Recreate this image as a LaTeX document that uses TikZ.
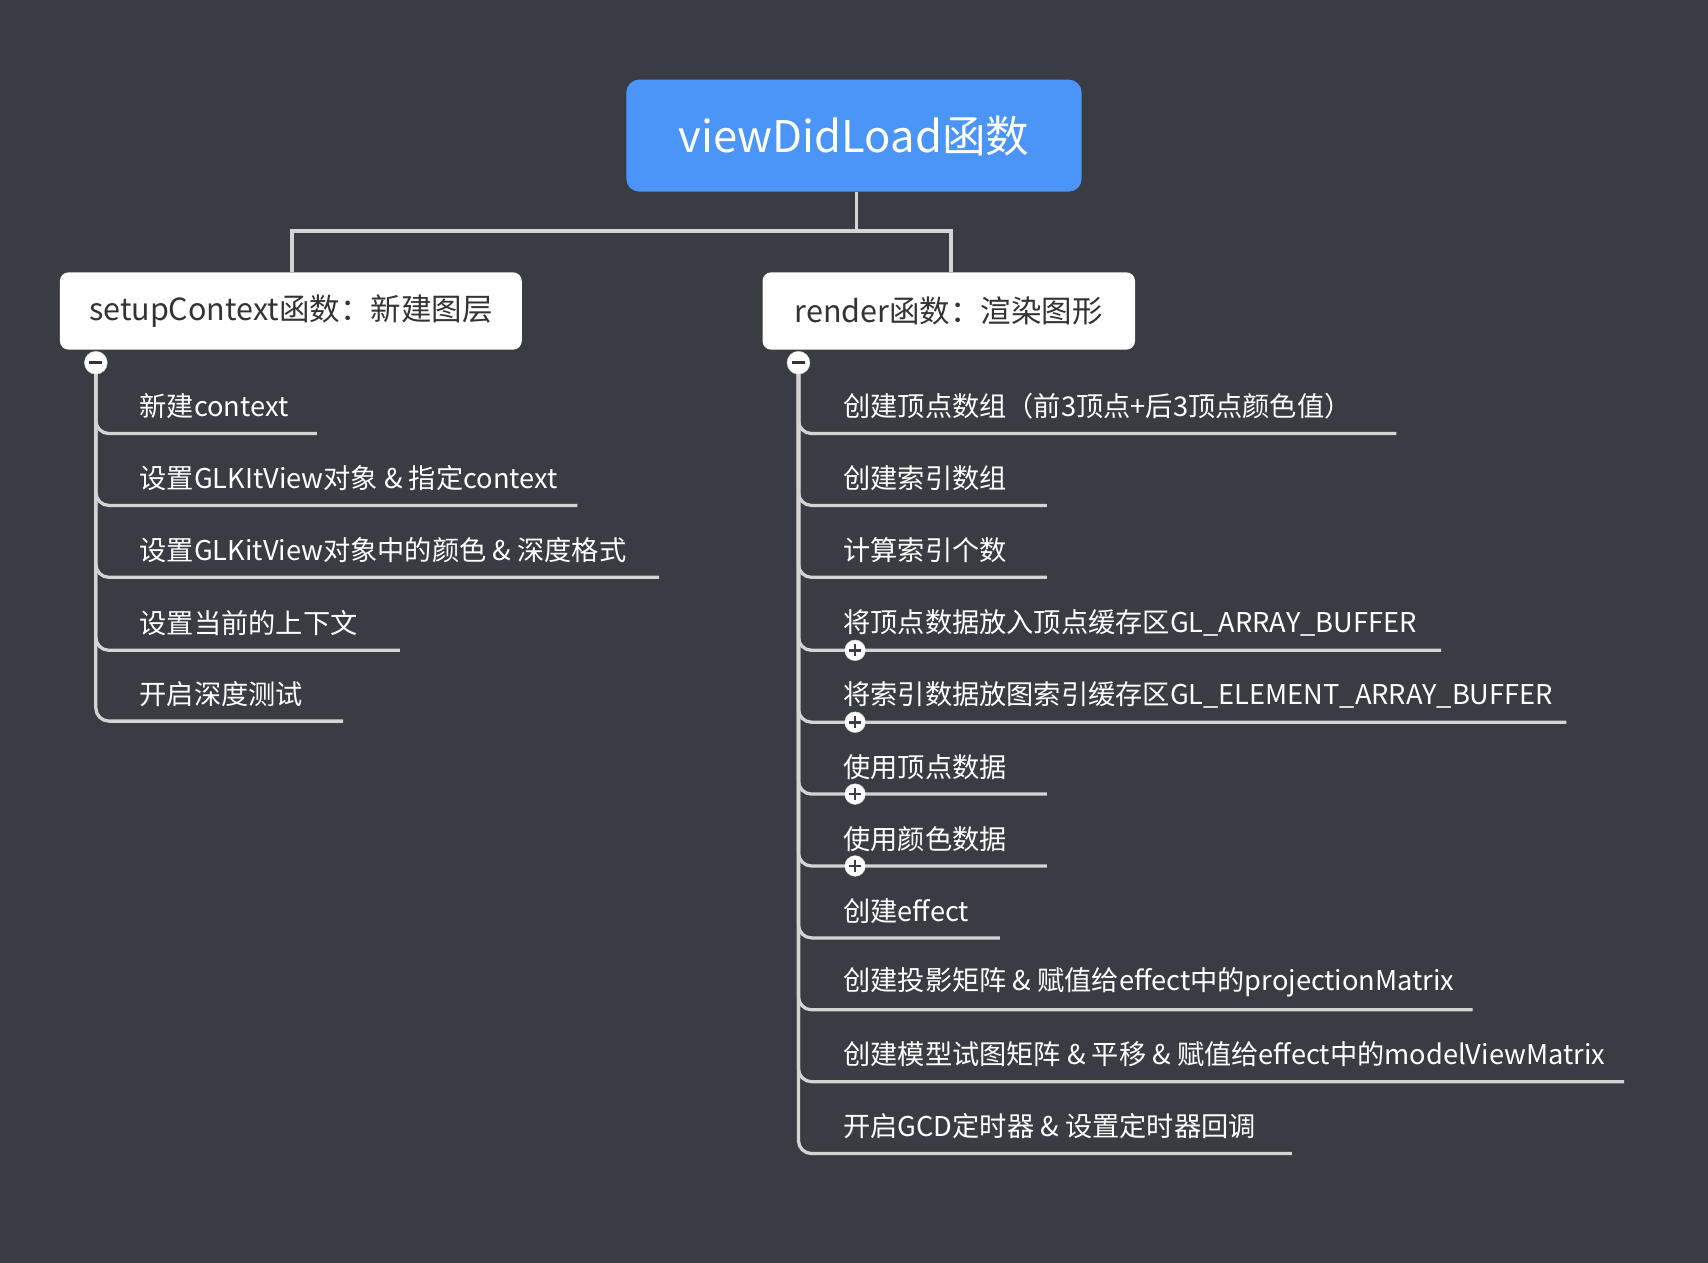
\documentclass[tikz,border=0pt]{standalone}
\usepackage{fontspec}
\setmainfont{Noto Sans CJK SC}
\begin{document}
\begin{tikzpicture}[x=1pt,y=-1pt,
  ln/.style={draw=linegray,line width=3pt},
  item/.style={anchor=west,text=white,font=\fontsize{25}{29}\selectfont,inner sep=0pt},
  topbox/.style={fill=white,rounded corners=8pt,text=textdark,font=\fontsize{28}{33}\selectfont,inner sep=0pt}]
\definecolor{bg}{HTML}{393C42}
\definecolor{linegray}{HTML}{D4D4D4}
\definecolor{rootblue}{HTML}{4A95F7}
\definecolor{textdark}{HTML}{333333}
\fill[bg] (0,0) rectangle (1568,1159);
\useasboundingbox (0,0) rectangle (1568,1159);
% root
\node[fill=rootblue,rounded corners=12pt,minimum width=418pt,minimum height=103pt,text=white,font=\fontsize{40}{46}\selectfont,inner sep=0pt] (root) at (784,124.5) {viewDidLoad函数};
\node[topbox,minimum width=424pt,minimum height=71pt] (L) at (267,285.5) {setupContext函数：新建图层};
\node[topbox,minimum width=342pt,minimum height=71pt] (R) at (871,285.5) {render函数：渲染图形};
\coordinate (rs) at (786,176);
\draw[ln] (rs) -- (786,212) -| (268,250);
\draw[ln] (786,212) -| (873,250);
% left
\foreach \y/\e/\t [count=\i] in {398/291/新建context,464/530/设置GLKItView对象 \& 指定context,530/605/设置GLKitView对象中的颜色 \& 深度格式,597/367/设置当前的上下文,662/315/开启深度测试}{
  \draw[ln] (88,333) -- (88,\y-12) to[out=-90,in=180] (100,\y) -- (\e,\y);
  \node[item] (l\i) at (128,\y-25) {\t};
}
\node[circle,fill=white,draw=linegray,minimum size=21pt,inner sep=0pt] (lm) at (88,333) {};
\draw[textdark,line width=2.5pt] (82,333) -- (94,333);
% right
\foreach \y/\e/\t [count=\i] in {398/1282/创建顶点数组（前3顶点+后3顶点颜色值）,464/961/创建索引数组,530/961/计算索引个数,597/1323/将顶点数据放入顶点缓存区GL\_ARRAY\_BUFFER,663/1438/将索引数据放图索引缓存区GL\_ELEMENT\_ARRAY\_BUFFER,729/961/使用顶点数据,795/961/使用颜色数据,861/918/创建effect,927/1352/创建投影矩阵 \& 赋值给effect中的projectionMatrix,993/1491/创建模型试图矩阵 \& 平移 \& 赋值给effect中的modelViewMatrix,1059/1186/开启GCD定时器 \& 设置定时器回调}{
  \draw[ln] (733,333) -- (733,\y-12) to[out=-90,in=180] (745,\y) -- (\e,\y);
  \node[item] (r\i) at (774,\y-25) {\t};
}
\node[circle,fill=white,draw=linegray,minimum size=21pt,inner sep=0pt] (rm) at (733,333) {};
\draw[textdark,line width=2.5pt] (727,333) -- (739,333);
\foreach \y in {597,663,729,795}{
  \node[circle,fill=white,draw=linegray,minimum size=19pt,inner sep=0pt] at (785,\y) {};
  \draw[bg,line width=2.5pt] (779.5,\y) -- (790.5,\y) (785,\y-5.5) -- (785,\y+5.5);
}
\end{tikzpicture}
\end{document}
